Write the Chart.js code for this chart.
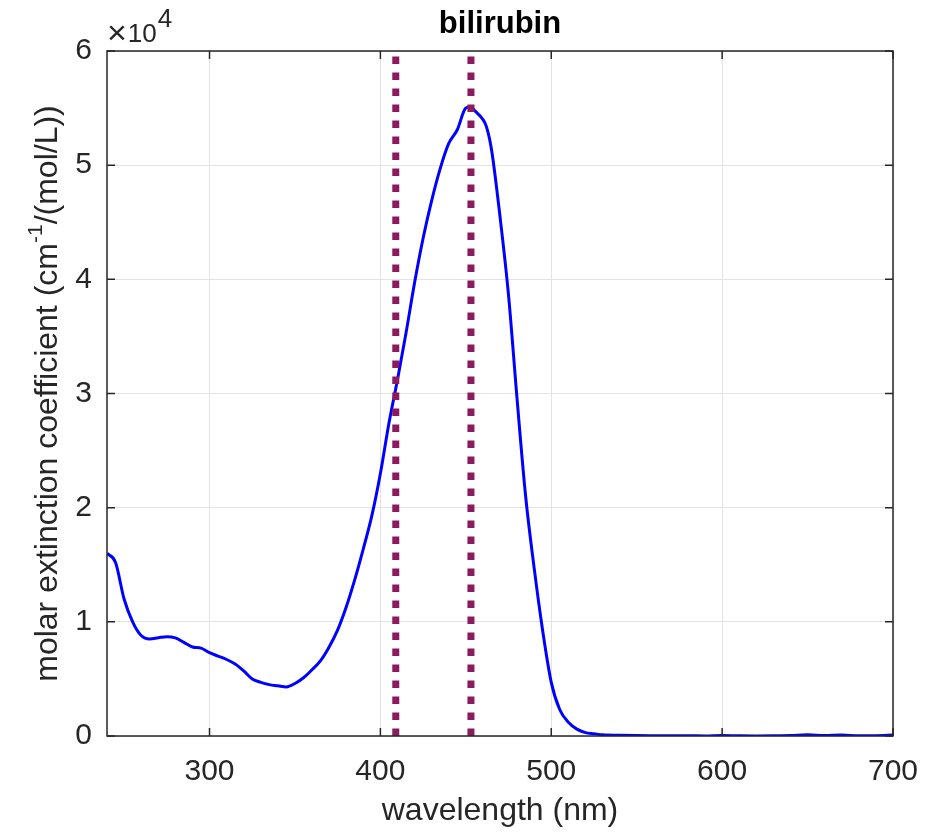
<!DOCTYPE html>
<html>
<head>
<meta charset="utf-8">
<script src="https://cdn.jsdelivr.net/npm/chart.js@4"></script>
<style>
  html, body { margin: 0; padding: 0; background: #fff; }
  #wrap { width: 945px; height: 834px; }
</style>
</head>
<body>
<div id="wrap"><canvas id="spectrum" width="945" height="834"></canvas></div>
<script>
// --- data ---
const wavelengths = [
  240, 245, 250, 255, 260, 265, 270, 275, 280, 285, 290, 295, 300, 305, 310,
  315, 320, 325, 330, 335, 340, 345, 350, 355, 360, 365, 370, 375, 380, 385,
  390, 395, 400, 405, 410, 415, 420, 425, 430, 435, 440, 445, 450, 453, 455,
  460, 462, 465, 470, 475, 480, 485, 490, 495, 500, 505, 510, 515, 520, 525,
  530, 540, 550, 560, 570, 580, 590, 600, 610, 620, 630, 640, 650, 660, 670,
  680, 690, 700
];
const extinction = [
  16000, 15200, 12000, 10000, 8800, 8500, 8600, 8700, 8600, 8200, 7800, 7700, 7300, 7000, 6700,
  6300, 5700, 5000, 4700, 4500, 4400, 4300, 4600, 5100, 5800, 6600, 7800, 9300, 11300, 13700,
  16400, 19300, 23000, 27400, 31200, 35300, 39700, 43600, 46900, 49700, 51900, 53100, 55000, 55100, 54800,
  54000, 53400, 51400, 45500, 38600, 29500, 21000, 14700, 9200, 4700, 2300, 1200, 600, 300, 200,
  100, 60, 40, 30, 20, 30, 10, 40, 20, 10, 20, 40, 100, 40, 90,
  20, 30, 80
];
const markerWavelengths = [409, 453];
const xTicks = [300, 400, 500, 600, 700];
const yTicks = [0, 10000, 20000, 30000, 40000, 50000, 60000];

const FONT = '"Liberation Sans", Arial, Helvetica, sans-serif';
const AXIS = '#262626';

const curve = wavelengths.map((w, i) => ({ x: w, y: extinction[i] }));
const markers = markerWavelengths.map(w => ({
  data: [{ x: w, y: 0 }, { x: w, y: 60000 }],
  borderColor: '#8c1a5f',
  borderWidth: 7,
  borderDash: [7.5, 8.5],
  borderCapStyle: 'butt',
  pointRadius: 0
}));

// frame, inward ticks, exponent label and the y label with superscript
const decorations = {
  id: 'decorations',
  afterDraw(chart) {
    const { ctx, chartArea: a, scales } = chart;
    ctx.save();
    ctx.strokeStyle = AXIS;
    ctx.lineWidth = 1.5;
    ctx.strokeRect(a.left, a.top, a.right - a.left, a.bottom - a.top);

    ctx.beginPath();
    xTicks.forEach(v => {
      const px = scales.x.getPixelForValue(v);
      ctx.moveTo(px, a.bottom); ctx.lineTo(px, a.bottom - 8);
      ctx.moveTo(px, a.top); ctx.lineTo(px, a.top + 8);
    });
    yTicks.forEach(v => {
      const py = scales.y.getPixelForValue(v);
      ctx.moveTo(a.left, py); ctx.lineTo(a.left + 8, py);
      ctx.moveTo(a.right, py); ctx.lineTo(a.right - 8, py);
    });
    ctx.stroke();

    // x10^4
    ctx.fillStyle = AXIS;
    ctx.textBaseline = 'alphabetic';
    ctx.textAlign = 'left';
    ctx.font = '300 34px ' + FONT;
    ctx.fillText('\u00d7', a.left + 0, 44);
    let x0 = a.left + 1 + ctx.measureText('\u00d7').width;
    ctx.font = '26px ' + FONT;
    ctx.fillText('10', x0, 42);
    x0 += ctx.measureText('10').width + 1;
    ctx.fillText('4', x0, 27);

    // y axis label
    const parts = [
      { t: 'molar extinction coefficient (cm', size: 32, dy: 0 },
      { t: '-1', size: 21, dy: -12 },
      { t: '/(mol/L))', size: 32, dy: 0 }
    ];
    let total = 0;
    parts.forEach(p => { ctx.font = p.size + 'px ' + FONT; p.w = ctx.measureText(p.t).width; total += p.w; });
    ctx.translate(48, (a.top + a.bottom) / 2);
    ctx.rotate(-Math.PI / 2);
    ctx.textBaseline = 'middle';
    let x = -total / 2;
    parts.forEach(p => {
      ctx.font = p.size + 'px ' + FONT;
      ctx.fillText(p.t, x, p.dy);
      x += p.w;
    });
    ctx.restore();
  }
};

new Chart(document.getElementById('spectrum'), {
  type: 'line',
  data: {
    datasets: [
      ...markers,
      {
        data: curve,
        borderColor: '#0000ff',
        borderWidth: 3,
        pointRadius: 0,
        cubicInterpolationMode: 'monotone'
      }
    ]
  },
  options: {
    responsive: false,
    animation: false,
    layout: { padding: { left: 0, right: 52, top: 0, bottom: 0 } },
    plugins: {
      legend: { display: false },
      tooltip: { enabled: false },
      title: {
        display: true,
        fullSize: false,
        text: 'bilirubin',
        color: '#000',
        font: { family: FONT, size: 31, weight: 'bold' },
        padding: { top: 6, bottom: 7.8 }
      }
    },
    scales: {
      x: {
        type: 'linear',
        min: 240,
        max: 700,
        afterBuildTicks: s => { s.ticks = xTicks.map(v => ({ value: v })); },
        afterFit: s => { s.height = 98; },
        grid: { color: '#e3e3e3', drawTicks: false },
        border: { display: false },
        ticks: { color: AXIS, padding: 18, font: { family: FONT, size: 30 }, maxRotation: 0 },
        title: {
          display: true,
          text: 'wavelength (nm)',
          color: AXIS,
          font: { family: FONT, size: 32 },
          padding: { top: 0, bottom: 4 }
        }
      },
      y: {
        min: 0,
        max: 60000,
        afterBuildTicks: s => { s.ticks = yTicks.map(v => ({ value: v })); },
        afterFit: s => { s.width = 107; },
        grid: { color: '#e3e3e3', drawTicks: false },
        border: { display: false },
        ticks: {
          color: AXIS,
          padding: 15,
          font: { family: FONT, size: 30 },
          callback: v => String(v / 10000)
        }
      }
    }
  },
  plugins: [decorations]
});
</script>
</body>
</html>
